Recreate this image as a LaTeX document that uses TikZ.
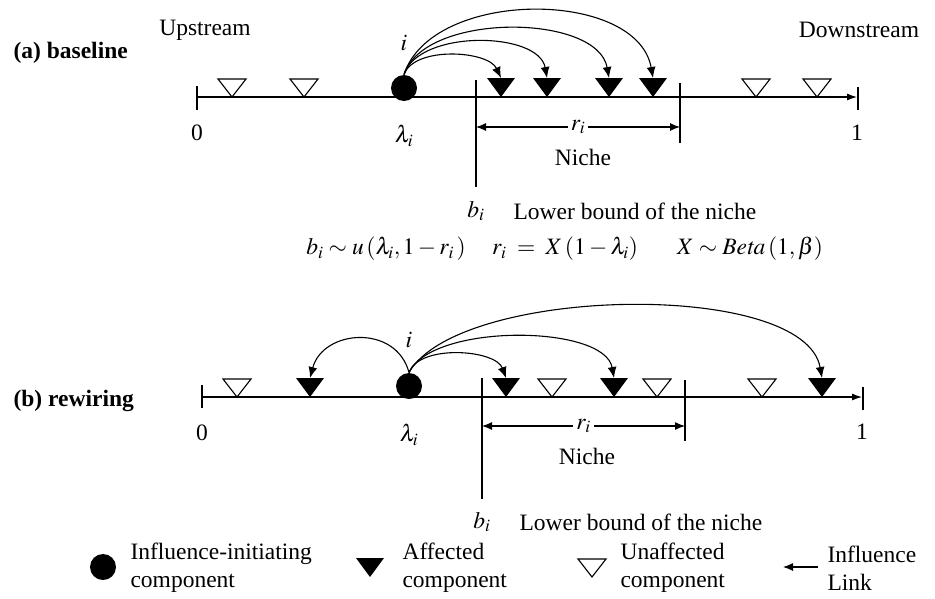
\documentclass[tikz,border=0pt]{standalone}
\usepackage{mathptmx}
\usepackage[no-math]{fontspec}
\setmainfont{Liberation Serif}
\usetikzlibrary{arrows.meta, positioning}

% triangles hang from the axis: name, x, y of the axis
\newcommand{\affected}[3]{%
  \fill (#2-14,#3-19) -- (#2+14,#3-19) -- (#2,#3) -- cycle;
  \coordinate (#1) at (#2,#3-19);}
\newcommand{\unaffected}[2]{%
  \draw[line join=miter] (#1-14,#2-18) -- (#1+14,#2-18) -- (#1,#2) -- cycle;}

\begin{document}
\begin{tikzpicture}[x=1pt, y=-1pt, line width=1.1pt,
  font=\fontsize{23.5}{28}\selectfont,
  >={Latex[length=11pt,width=9pt]},
  src/.style={circle, fill, inner sep=0pt, minimum size=26pt},
  lab/.style={inner sep=0pt},
  dim/.style={<->, >={Latex[length=10pt,width=8pt]}},
  legend/.style={anchor=west, align=left, inner sep=0pt}]

\useasboundingbox (0,0) rectangle (935,598);

% (a) baseline
\node[lab, anchor=west] (ta) at (13,53) {\bfseries (a) baseline};
\node[lab] (up) at (205,30) {Upstream};
\node[lab] (down) at (859,30) {Downstream};

\draw[->, >={Latex[length=10pt,width=7pt]}] (197,97) -- (857,97);
\draw (197,86) -- (197,110);
\draw (858,87) -- (858,110);
\node[lab] (za) at (197,133) {0};
\node[lab] (oa) at (857,133) {1};

\unaffected{232}{97}
\unaffected{304}{97}
\unaffected{756}{97}
\unaffected{817}{97}
\affected{a1}{501}{97}
\affected{a2}{547}{97}
\affected{a3}{609}{97}
\affected{a4}{653}{97}

\node[src] (ia) at (404,88) {};
\node[lab] (ila) at (404,43) {$i$};
\node[lab] (lma) at (404,136) {$\lambda_i$};

\draw (476,80) -- (476,187);
\draw (680,83) -- (680,143);
\coordinate (ba) at (476,127);
\coordinate (ea) at (680,127);
\draw[dim] (ba) -- node[fill=white, inner sep=3pt] (ra) {$r_i$} (ea);
\node[lab] (na) at (583,157) {Niche};
\node[lab] (bla) at (476,211) {$b_i$};
\node[lab, anchor=west] (lba) at (513,211) {Lower bound of the niche};

\node[lab] (f1) at (386,249) {$b_i \sim u\,(\lambda_i, 1-r_i\,)$};
\node[lab] (f2) at (565,249) {$r_i \;=\; X\,(1-\lambda_i)$};
\node[lab] (f3) at (750,249) {$X \sim \mathit{Beta}\,(1,\beta)$};

\draw[->]
(ia.north) edge[out=70, in=115, looseness=0.8] (a1)
(ia.north) edge[out=72, in=100, looseness=0.85] (a2)
(ia.north) edge[out=72, in=100, looseness=0.82] (a3)
(ia.north) edge[out=72, in=100, looseness=0.93] (a4);

% (b) rewiring
\node[lab, anchor=west] (tb) at (13,401) {\bfseries (b) rewiring};

\draw[->, >={Latex[length=10pt,width=7pt]}] (202,397) -- (862,397);
\draw (202,385) -- (202,408);
\draw (863,387) -- (863,410);
\node[lab] (zb) at (202,433) {0};
\node[lab] (ob) at (862,432) {1};

\unaffected{237}{397}
\unaffected{552}{397}
\unaffected{657}{397}
\unaffected{762}{397}
\affected{b1}{310}{397}
\affected{b2}{506}{397}
\affected{b3}{614}{397}
\affected{b4}{822}{397}

\node[src] (ib) at (409,386) {};
\node[lab] (ilb) at (409,340) {$i$};
\node[lab] (lmb) at (409,435) {$\lambda_i$};

\draw (482,378) -- (482,499);
\draw (685,380) -- (685,441);
\coordinate (bb) at (482,426);
\coordinate (eb) at (685,426);
\draw[dim] (bb) -- node[fill=white, inner sep=3pt] (rb) {$r_i$} (eb);
\node[lab] (nb) at (587,456) {Niche};
\node[lab] (blb) at (482,522) {$b_i$};
\node[lab, anchor=west] (lbb) at (519,522) {Lower bound of the niche};

\draw[->]
(ib.north) edge[out=105, in=75, looseness=1.3] (b1)
(ib.north) edge[out=70, in=110, looseness=0.8] (b2)
(ib.north) edge[out=65, in=100, looseness=0.68] (b3)
(ib.north) edge[out=60, in=100, looseness=0.62] (b4);

% legend
\node[src] (lg1) at (103,567) {};
\node[legend] (lt1) at (130,568) {Influence-initiating\\component};
\affected{lg2}{370}{577}
\node[legend] (lt2) at (402,568) {Affected\\component};
\unaffected{592}{577}
\node[legend] (lt3) at (620,568) {Unaffected\\component};
\coordinate (lk1) at (818,567);
\coordinate (lk2) at (783,567);
\draw[->, >={Latex[length=10pt,width=8pt]}] (lk1) -- (lk2);
\node[legend] (lt4) at (827,568) {Influence\\Link};

\end{tikzpicture}
\end{document}
